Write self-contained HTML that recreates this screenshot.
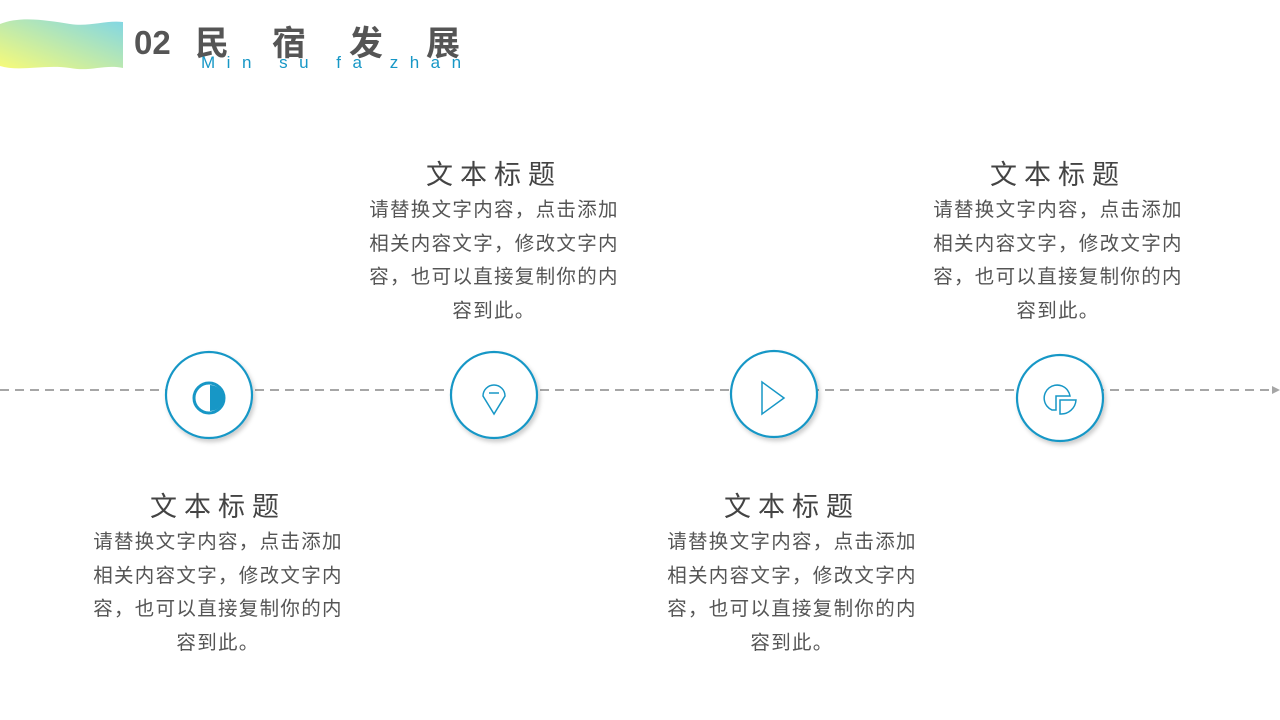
<!DOCTYPE html>
<html><head><meta charset="utf-8"><style>
body{margin:0;width:1280px;height:720px;background:#fff;position:relative;overflow:hidden;font-family:"Liberation Sans","Noto Sans CJK SC",sans-serif}
.blk{position:absolute;width:280px;text-align:center;color:#555}
.blk h3{margin:0;font-weight:normal;font-size:27px;letter-spacing:7px;line-height:34px;color:#444}
.blk p{margin:2px 0 0;font-size:19.5px;line-height:33.7px;color:#555;letter-spacing:1.3px;white-space:nowrap}
</style></head><body>
<svg width="1280" height="720" style="position:absolute;left:0;top:0">
<defs>
<linearGradient id="g" x1="0" y1="1" x2="1" y2="0"><stop offset="0" stop-color="#f8fb78"/><stop offset="1" stop-color="#80d6e6"/></linearGradient>
<filter id="s" x="-20%" y="-20%" width="150%" height="150%"><feDropShadow dx="2" dy="3" stdDeviation="2" flood-color="#000" flood-opacity="0.2"/></filter>
</defs>
<path d="M0,24 C20,16 45,20 70,24 C90,27 105,20 123,22 L123,68 C105,64 90,72 70,68 C45,64 20,72 0,66 Z" fill="url(#g)"/>
<line x1="0" y1="390" x2="1272" y2="390" stroke="#a6a6a6" stroke-width="2" stroke-dasharray="9,6"/>
<path d="M1272,386 L1280,390 L1272,394Z" fill="#a6a6a6"/>
<g fill="#fff" stroke="#1797c6" stroke-width="2.2" filter="url(#s)">
<circle cx="209" cy="395" r="43"/><circle cx="494" cy="395" r="43"/><circle cx="774" cy="394" r="43"/><circle cx="1060" cy="398" r="43"/>
</g>
<circle cx="209" cy="398" r="15" fill="none" stroke="#1797c6" stroke-width="3"/>
<path d="M210,385 A13,13 0 0 1 210,411Z" fill="#1797c6"/>
<path d="M494,414 L483,396 A11,11 0 1 1 505,396Z" fill="none" stroke="#1797c6" stroke-width="1.5"/>
<line x1="489" y1="393" x2="499" y2="393" stroke="#1797c6" stroke-width="1.5"/>
<path d="M762,382 L762,414 L784,398Z" fill="none" stroke="#1797c6" stroke-width="1.5"/>
<path d="M1052,410 A13,13 0 1 1 1070,396 L1056,396 L1056,410Z" fill="none" stroke="#1797c6" stroke-width="1.5"/>
<path d="M1060,400 L1076,400 A15,15 0 0 1 1060,414Z" fill="none" stroke="#1797c6" stroke-width="1.5"/>
</svg>
<div style="position:absolute;left:134px;top:24px;font-size:33px;font-weight:bold;color:#555">02</div>
<div style="position:absolute;left:195px;top:16px;font-size:34px;font-weight:bold;color:#555;letter-spacing:43px;white-space:nowrap">民宿发展</div>
<div style="position:absolute;left:201px;top:53px;font-size:17px;color:#1797c6;letter-spacing:11.5px;white-space:nowrap">Min su fa zhan</div>
<div class="blk" style="left:354px;top:158px"><h3>文本标题</h3><p>请替换文字内容，点击添加<br>相关内容文字，修改文字内<br>容，也可以直接复制你的内<br>容到此。</p></div>
<div class="blk" style="left:918px;top:158px"><h3>文本标题</h3><p>请替换文字内容，点击添加<br>相关内容文字，修改文字内<br>容，也可以直接复制你的内<br>容到此。</p></div>
<div class="blk" style="left:78px;top:490px"><h3>文本标题</h3><p>请替换文字内容，点击添加<br>相关内容文字，修改文字内<br>容，也可以直接复制你的内<br>容到此。</p></div>
<div class="blk" style="left:652px;top:490px"><h3>文本标题</h3><p>请替换文字内容，点击添加<br>相关内容文字，修改文字内<br>容，也可以直接复制你的内<br>容到此。</p></div>
</body></html>
